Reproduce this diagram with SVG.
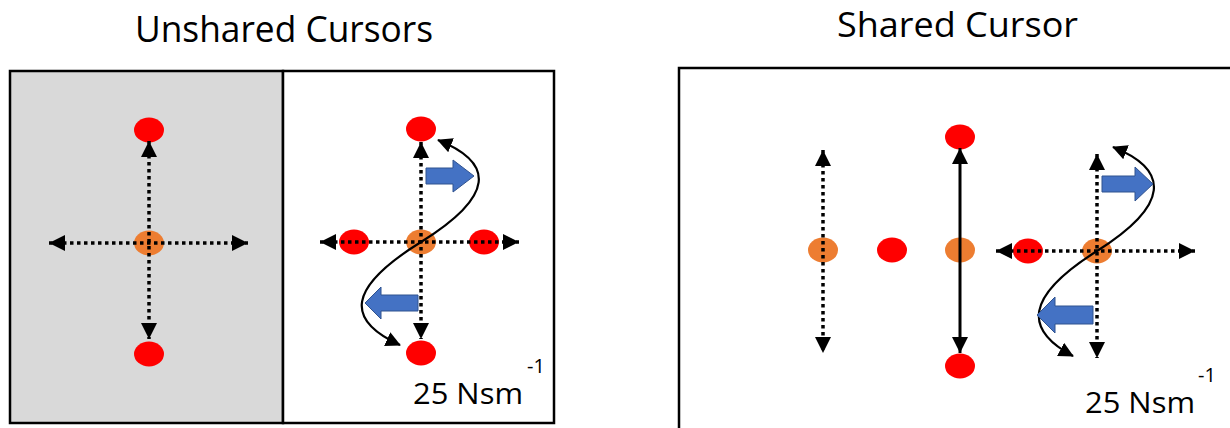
<svg xmlns="http://www.w3.org/2000/svg" width="1230" height="428" viewBox="0 0 1230 428">
  <defs>
    <style>
      .title { font-family: "Open Sans", "Liberation Sans", sans-serif; font-size: 37px; fill: #000; }
      .title-sm { font-size: 34px; }
      .unit { font-family: "Open Sans", "Liberation Sans", sans-serif; font-size: 30px; fill: #000; }
      .sup { font-family: "Open Sans", "Liberation Sans", sans-serif; font-size: 20px; fill: #000; }
      .frame { stroke: #000; stroke-width: 2.5; }
      .red { fill: #ff0000; }
      .orange { fill: #ed7d31; }
      .dotted { fill: none; stroke: #000; stroke-width: 3.5; stroke-dasharray: 3.5 3.5; marker-start: url(#head); marker-end: url(#head); }
      .solid { fill: none; stroke: #000; stroke-width: 3; marker-start: url(#head); marker-end: url(#head); }
      .curve { fill: none; stroke: #000; stroke-width: 2.2; marker-start: url(#headS); marker-end: url(#headS); }
      .push { fill: #4472c4; stroke: #2f528f; stroke-width: 1; }
    </style>
    <marker id="head" viewBox="0 0 16 16" refX="16" refY="8" markerWidth="16" markerHeight="16" markerUnits="userSpaceOnUse" orient="auto-start-reverse">
      <path d="M0,0 L16,8 L0,16 z" fill="#000"/>
    </marker>
    <marker id="headS" viewBox="0 0 16 16" refX="15" refY="8" markerWidth="15" markerHeight="15" markerUnits="userSpaceOnUse" orient="auto-start-reverse">
      <path d="M0,0 L16,8 L0,16 z" fill="#000"/>
    </marker>
  </defs>

  <rect width="1230" height="428" fill="#fff"/>

  <!-- titles -->
  <text class="title" x="135" y="42" textLength="298" lengthAdjust="spacingAndGlyphs">Unshared Cursors</text>
  <text class="title title-sm" x="837" y="37" textLength="241" lengthAdjust="spacingAndGlyphs">Shared Cursor</text>

  <!-- panel frames -->
  <g id="frames">
    <rect class="frame" x="10" y="71" width="273" height="352" fill="#d9d9d9"/>
    <rect class="frame" x="283" y="71" width="271" height="352" fill="#fff"/>
    <path class="frame" d="M1230 68 H679 V428" fill="none"/>
  </g>

  <!-- unshared: single-cursor panel -->
  <g id="n-left-top"><ellipse class="red" cx="149" cy="130" rx="15" ry="12.5"/></g>
  <g id="n-left-center"><ellipse class="orange" cx="149" cy="243" rx="15" ry="12.5"/></g>
  <g id="n-left-bottom"><ellipse class="red" cx="149" cy="354" rx="15" ry="12.5"/></g>

  <!-- unshared: coupled panel -->
  <g id="n-mid-top"><ellipse class="red" cx="421" cy="129" rx="15" ry="12.5"/></g>
  <g id="n-mid-center"><ellipse class="orange" cx="421" cy="242" rx="15" ry="12.5"/></g>
  <g id="n-mid-left"><ellipse class="red" cx="354" cy="242" rx="15" ry="12.5"/></g>
  <g id="n-mid-right"><ellipse class="red" cx="484" cy="242" rx="15" ry="12.5"/></g>
  <g id="n-mid-bottom"><ellipse class="red" cx="421" cy="353" rx="15" ry="12.5"/></g>

  <!-- shared panel -->
  <g id="n-sh-a"><ellipse class="orange" cx="823" cy="250" rx="15" ry="12.5"/></g>
  <g id="n-sh-b"><ellipse class="red" cx="892" cy="250" rx="15" ry="12.5"/></g>
  <g id="n-sh-c"><ellipse class="orange" cx="960" cy="250" rx="15" ry="12.5"/></g>
  <g id="n-sh-c-top"><ellipse class="red" cx="960" cy="137" rx="15" ry="12.5"/></g>
  <g id="n-sh-c-bottom"><ellipse class="red" cx="960" cy="366" rx="15" ry="12.5"/></g>
  <g id="n-sh-d"><ellipse class="orange" cx="1097" cy="251" rx="15" ry="12.5"/></g>
  <g id="n-sh-d-left"><ellipse class="red" cx="1028" cy="251" rx="15" ry="12.5"/></g>

  <!-- movement arrows -->
  <g id="connectors">
    <line class="dotted" x1="149" y1="141" x2="149" y2="339"/>
    <line class="dotted" x1="49" y1="243" x2="248" y2="243"/>

    <line class="dotted" x1="421" y1="142" x2="421" y2="339"/>
    <line class="dotted" x1="320" y1="242" x2="519" y2="242"/>
    <path class="curve" d="M438 140 C495 163 495 196 421 242 C347 288 345 320 400 345"/>

    <line class="dotted" x1="823" y1="150" x2="823" y2="353"/>
    <line class="solid" x1="960" y1="148" x2="960" y2="353"/>

    <line class="dotted" x1="1097" y1="154" x2="1097" y2="358"/>
    <line class="dotted" x1="996" y1="251" x2="1195" y2="251"/>
    <path class="curve" d="M1113 147 C1170 170 1170 205 1097 251 C1024 297 1024 330 1073 356"/>
  </g>

  <!-- force direction arrows -->
  <g id="forces">
    <path class="push" d="M426 168 H453 V160 L474 176 L453 192 V184 H426 Z"/>
    <path class="push" d="M418 295 H381 V287 L365 303 L381 319 V311 H418 Z"/>
    <path class="push" d="M1102 176 H1135 V167 L1153 184 L1135 201 V192 H1102 Z"/>
    <path class="push" d="M1093 306 H1055 V297 L1037 315 L1055 333 V324 H1093 Z"/>
  </g>

  <!-- stiffness labels -->
  <g id="label-left">
    <text class="unit" x="413" y="404" textLength="110" lengthAdjust="spacingAndGlyphs">25 Nsm</text>
    <text class="sup" x="527" y="373">-1</text>
  </g>
  <g id="label-right">
    <text class="unit" x="1085" y="413" textLength="110" lengthAdjust="spacingAndGlyphs">25 Nsm</text>
    <text class="sup" x="1198" y="382">-1</text>
  </g>
</svg>
